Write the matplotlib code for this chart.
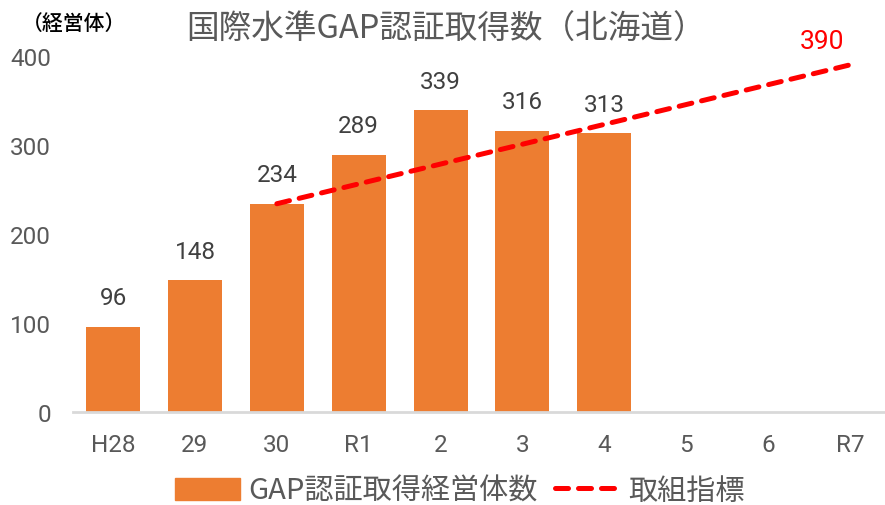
import numpy as np
import matplotlib.pyplot as plt
from matplotlib.lines import Line2D
from matplotlib.patches import Patch

plt.rcParams['font.family'] = ['Noto Sans CJK JP', 'DejaVu Sans']

# 年度ごとのGAP認証取得経営体数と取組指標
years = ["H28", "29", "30", "R1", "2", "3", "4", "5", "6", "R7"]
counts = [96, 148, 234, 289, 339, 316, 313]
target_idx = [2, 9]
target_vals = [234, 390]

bar_color = "#ED7D31"
line_color = "#FF0000"
dash = (0, (2.6, 2.0))
num_font = ['Roboto', 'DejaVu Sans']

fig = plt.figure(figsize=(8.85, 5.06), dpi=100)
ax = fig.add_axes([73 / 885, 1 - 413 / 506, 812 / 885, (413 - 57) / 506])

x = np.arange(len(years))
ax.bar(x[:len(counts)], counts, width=0.66, color=bar_color, zorder=2)
ax.plot(target_idx, target_vals, color=line_color, lw=3.6, ls=dash,
        dash_capstyle='round', zorder=3)

# 棒の値ラベル
for xi, v in zip(x, counts):
    ax.annotate(str(v), (xi, v), xytext=(0, 21), textcoords='offset points',
                ha='center', va='center', fontsize=17.5, color='#404040',
                family=num_font)
ax.annotate(str(target_vals[-1]), (target_idx[-1], target_vals[-1]),
            xytext=(-20, 17), textcoords='offset points', ha='center',
            va='center', fontsize=19, color=line_color, family=num_font)

ax.set_xlim(-0.49, 9.43)
ax.set_ylim(0, 400)
ax.set_yticks([0, 100, 200, 300, 400])
ax.set_xticks(x)
ax.set_xticklabels(years)
for lab in ax.get_yticklabels():
    lab.set_family(num_font)
    lab.set_fontsize(17.5)
    lab.set_color('#595959')
for lab in ax.get_xticklabels():
    lab.set_family(num_font)
    lab.set_fontsize(17.5)
    lab.set_color('#595959')
ax.tick_params(axis='both', length=0)
ax.tick_params(axis='x', pad=15)
ax.tick_params(axis='y', pad=16)

for s in ['top', 'right', 'left']:
    ax.spines[s].set_visible(False)
ax.spines['bottom'].set_color('#D9D9D9')
ax.spines['bottom'].set_linewidth(2)

fig.text(446 / 885, 1 - 30 / 506, "国際水準GAP認証取得数（北海道）", ha='center',
         va='center', fontsize=23.5, color='#595959')
fig.text(74 / 885, 1 - 24 / 506, "（経営体）", ha='center', va='center',
         fontsize=15, color='#000000', fontweight='medium')

handles = [Patch(color=bar_color),
           Line2D([0], [0], color=line_color, lw=3.6, ls=dash,
                  dash_capstyle='round')]
fig.legend(handles, ["GAP認証取得経営体数", "取組指標"], loc='center',
           bbox_to_anchor=(460 / 885, 1 - 492 / 506), ncol=2, frameon=False,
           fontsize=21, handlelength=2.2, handleheight=0.8, handletextpad=0.3,
           columnspacing=0.6, labelcolor='#595959')

fig.savefig("out.png", dpi=100)
